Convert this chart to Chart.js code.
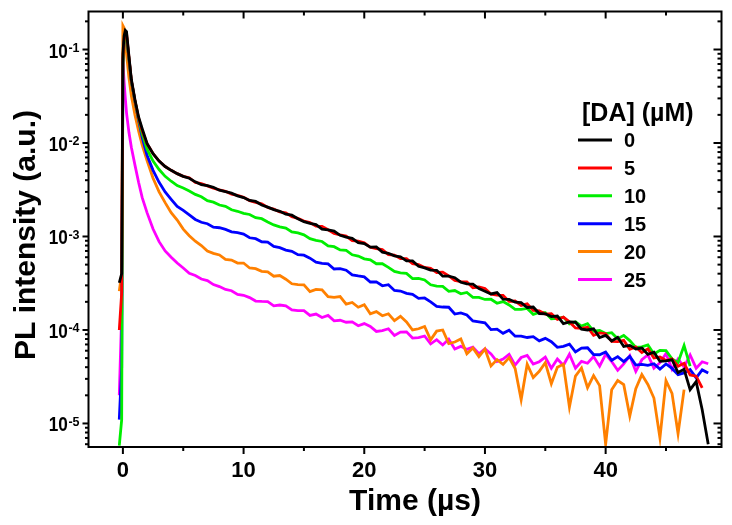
<!DOCTYPE html>
<html>
<head>
<meta charset="utf-8">
<script src="https://cdn.jsdelivr.net/npm/chart.js@4.4.1/dist/chart.umd.min.js"></script>
<style>
  html, body { margin: 0; padding: 0; background: #fff; }
  #wrap { width: 732px; height: 525px; }
</style>
</head>
<body>
<div id="wrap"><canvas id="plChart" width="732" height="525"></canvas></div>
<script>
// time axis (µs), shared by all traces
const timeUs = [-0.3, -0.1, 0, 0.1, 0.2, 0.3, 0.5, 0.7, 1.0, 1.3, 1.6, 2.0, 2.5, 3.0, 3.5, 4.0, 4.5, 5.0,
  5.5, 6, 6.5, 7, 7.5, 8, 8.5, 9, 9.5, 10,
  10.5, 11, 11.5, 12, 12.5, 13, 13.5, 14, 14.5, 15,
  15.5, 16, 16.5, 17, 17.5, 18, 18.5, 19, 19.5, 20,
  20.5, 21, 21.5, 22, 22.5, 23, 23.5, 24, 24.5, 25,
  25.5, 26, 26.5, 27, 27.5, 28, 28.5, 29, 29.5, 30,
  30.5, 31, 31.5, 32, 32.5, 33, 33.5, 34, 34.5, 35,
  35.5, 36, 36.5, 37, 37.5, 38, 38.5, 39, 39.5, 40,
  40.5, 41, 41.5, 42, 42.5, 43, 43.5, 44, 44.5, 45,
  45.5, 46, 46.5, 47, 47.5, 48, 48.5];

// PL intensity (a.u.) per [DA] concentration
const pl0 = [3.2e-4, 4e-4, 0.09, 0.14, 0.16, 0.155, 0.085, 0.048, 0.029, 0.019, 0.0142, 0.0099, 0.0077, 0.0064, 0.0056, 0.0051, 0.0047, 0.0044,
  4.20e-3, 3.84e-3, 3.58e-3, 3.49e-3, 3.36e-3, 3.13e-3, 3.02e-3, 2.91e-3, 2.72e-3, 2.61e-3,
  2.43e-3, 2.37e-3, 2.17e-3, 2.06e-3, 1.94e-3, 1.86e-3, 1.73e-3, 1.69e-3, 1.55e-3, 1.44e-3,
  1.38e-3, 1.34e-3, 1.20e-3, 1.18e-3, 1.14e-3, 1.03e-3, 9.85e-4, 9.54e-4, 8.59e-4, 8.40e-4,
  7.69e-4, 7.72e-4, 6.81e-4, 6.61e-4, 6.20e-4, 6.05e-4, 5.49e-4, 5.48e-4, 4.80e-4, 4.62e-4,
  4.37e-4, 4.35e-4, 3.76e-4, 3.76e-4, 3.62e-4, 3.24e-4, 3.11e-4, 3.10e-4, 2.77e-4, 2.60e-4,
  2.43e-4, 2.51e-4, 2.14e-4, 2.13e-4, 1.98e-4, 1.96e-4, 1.74e-4, 1.76e-4, 1.50e-4, 1.49e-4,
  1.39e-4, 1.41e-4, 1.17e-4, 1.22e-4, 1.21e-4, 1.02e-4, 1.00e-4, 1.03e-4, 8.3e-5, 8.76e-5,
  7.64e-5, 8.35e-5, 6.67e-5, 6.84e-5, 6.27e-5, 6.40e-5, 5.48e-5, 5.78e-5, 4.63e-5, 4.67e-5,
  4.8e-5, 3.5e-5, 3.8e-5, 2.3e-5, 2.8e-5, 1.4e-5, 6e-6];
const pl5 = [1e-4, 2.5e-4, 0.08, 0.13, 0.15, 0.15, 0.083, 0.047, 0.0285, 0.0185, 0.0135, 0.0098, 0.0077, 0.0064, 0.0056, 0.0051, 0.0047, 0.0044,
  4.25e-3, 3.78e-3, 3.67e-3, 3.48e-3, 3.28e-3, 3.15e-3, 3.04e-3, 2.84e-3, 2.76e-3, 2.62e-3,
  2.42e-3, 2.32e-3, 2.23e-3, 2.04e-3, 1.96e-3, 1.83e-3, 1.79e-3, 1.63e-3, 1.56e-3, 1.46e-3,
  1.41e-3, 1.29e-3, 1.28e-3, 1.18e-3, 1.08e-3, 1.04e-3, 1.01e-3, 9.04e-4, 8.92e-4, 8.54e-4,
  7.66e-4, 7.41e-4, 7.23e-4, 6.41e-4, 6.33e-4, 5.79e-4, 5.80e-4, 5.12e-4, 5.00e-4, 4.66e-4,
  4.57e-4, 4.12e-4, 4.16e-4, 3.78e-4, 3.38e-4, 3.29e-4, 3.27e-4, 2.83e-4, 2.88e-4, 2.78e-4,
  2.42e-4, 2.36e-4, 2.35e-4, 2.02e-4, 2.04e-4, 1.83e-4, 1.90e-4, 1.62e-4, 1.60e-4, 1.48e-4,
  1.49e-4, 1.30e-4, 1.37e-4, 1.22e-4, 1.05e-4, 1.04e-4, 1.07e-4, 8.77e-5, 9.3e-5, 9.12e-5,
  7.56e-5, 7.51e-5, 7.74e-5, 6.23e-5, 6.59e-5, 5.74e-5, 6.28e-5, 5.01e-5, 5.14e-5, 4.71e-5,
  4.9e-5, 4.1e-5, 4.4e-5, 3.3e-5, 3.2e-5, 2.4e-5];
const pl10 = [5.8e-6, 1.1e-5, 0.07, 0.12, 0.14, 0.14, 0.08, 0.046, 0.028, 0.018, 0.0125, 0.0086, 0.0064, 0.0052, 0.0044, 0.0039, 0.0035, 0.0033,
  3.07e-3, 2.82e-3, 2.66e-3, 2.42e-3, 2.33e-3, 2.17e-3, 2.10e-3, 1.93e-3, 1.86e-3, 1.77e-3,
  1.72e-3, 1.59e-3, 1.55e-3, 1.43e-3, 1.33e-3, 1.27e-3, 1.23e-3, 1.12e-3, 1.09e-3, 1.04e-3,
  9.49e-4, 9.10e-4, 8.84e-4, 7.95e-4, 7.78e-4, 7.18e-4, 7.10e-4, 6.37e-4, 6.17e-4, 5.77e-4,
  5.63e-4, 5.11e-4, 5.11e-4, 4.68e-4, 4.23e-4, 4.09e-4, 4.03e-4, 3.55e-4, 3.56e-4, 3.43e-4,
  3.04e-4, 2.94e-4, 2.92e-4, 2.59e-4, 2.64e-4, 2.44e-4, 2.52e-4, 2.23e-4, 2.23e-4, 2.12e-4,
  2.13e-4, 1.93e-4, 2.01e-4, 1.85e-4, 1.66e-4, 1.66e-4, 1.70e-4, 1.47e-4, 1.54e-4, 1.53e-4,
  1.32e-4, 1.33e-4, 1.37e-4, 1.16e-4, 1.22e-4, 1.10e-4, 1.17e-4, 9.7e-5, 9.86e-5, 9.14e-5,
  9.35e-5, 8.04e-5, 8.75e-5, 7.70e-5, 6.52e-5, 6.61e-5, 6.91e-5, 5.53e-5, 6.06e-5, 6.03e-5,
  4.9e-5, 4.5e-5, 6.8e-5, 4.1e-5];
const pl15 = [1.1e-5, 4e-5, 0.07, 0.12, 0.14, 0.14, 0.08, 0.046, 0.028, 0.0175, 0.0115, 0.0074, 0.0051, 0.0038, 0.003, 0.0025, 0.0021, 0.0019,
  1.70e-3, 1.52e-3, 1.42e-3, 1.37e-3, 1.26e-3, 1.24e-3, 1.19e-3, 1.12e-3, 1.10e-3, 1.06e-3,
  9.69e-4, 9.48e-4, 8.78e-4, 8.71e-4, 7.84e-4, 7.60e-4, 7.16e-4, 6.94e-4, 6.39e-4, 6.31e-4,
  5.86e-4, 5.31e-4, 5.16e-4, 5.09e-4, 4.49e-4, 4.52e-4, 4.36e-4, 3.89e-4, 3.78e-4, 3.70e-4,
  3.26e-4, 3.27e-4, 2.97e-4, 3.05e-4, 2.65e-4, 2.61e-4, 2.46e-4, 2.41e-4, 2.18e-4, 2.20e-4,
  2.00e-4, 1.79e-4, 1.76e-4, 1.75e-4, 1.48e-4, 1.52e-4, 1.45e-4, 1.25e-4, 1.22e-4, 1.19e-4,
  1.01e-4, 1.02e-4, 9.2e-5, 9.95e-5, 8.58e-5, 8.61e-5, 8.31e-5, 8.49e-5, 7.65e-5, 8.13e-5,
  7.48e-5, 6.52e-5, 6.67e-5, 7.04e-5, 5.82e-5, 6.40e-5, 6.45e-5, 5.46e-5, 5.43e-5, 5.82e-5,
  4.74e-5, 5.19e-5, 4.58e-5, 5.21e-5, 4.21e-5, 4.28e-5, 4.18e-5, 4.35e-5, 3.82e-5, 4.33e-5,
  3.88e-5, 3.33e-5, 3.48e-5, 3.77e-5, 3.07e-5, 3.74e-5, 3.46e-5];
const pl20 = [2.6e-4, 4e-4, 0.18, 0.17, 0.13, 0.09, 0.05, 0.032, 0.02, 0.0135, 0.0095, 0.0065, 0.0042, 0.003, 0.0023, 0.0018, 0.0015, 0.0012,
  1.02e-3, 8.9e-4, 8.0e-4, 7.0e-4, 6.6e-4, 6.35e-4, 5.7e-4, 5.6e-4, 5.2e-4, 5.2e-4,
  4.60e-4, 4.53e-4, 4.24e-4, 4.18e-4, 3.76e-4, 3.82e-4, 3.49e-4, 3.12e-4, 3.06e-4, 3.04e-4,
  2.57e-4, 2.72e-4, 2.69e-4, 2.27e-4, 2.23e-4, 2.28e-4, 1.89e-4, 1.97e-4, 1.75e-4, 1.86e-4,
  1.49e-4, 1.57e-4, 1.42e-4, 1.49e-4, 1.26e-4, 1.40e-4, 1.22e-4, 1.0e-4, 1.03e-4, 1.09e-4,
  7.83e-5, 9.72e-5, 1.0e-4, 7.14e-5, 7.43e-5, 8.0e-5, 5.56e-5, 6.43e-5, 5.19e-5, 6.25e-5,
  4.13e-5, 4.82e-5, 4.28e-5, 5.06e-5, 3.87e-5, 1.8e-5, 4.3e-5, 3.1e-5, 3.61e-5, 4.47e-5,
  2.66e-5, 4.0e-5, 4.29e-5, 1.5e-5, 3.21e-5, 3.92e-5, 2.41e-5, 3.25e-5, 2.54e-5, 6e-6,
  2.29e-5, 2.88e-5, 2.6e-5, 1.2e-5, 2.35e-5, 3.33e-5, 2.61e-5, 1.87e-5, 7e-6, 2.87e-5,
  2.1e-5, 7.8e-6, 2.3e-5];
const pl25 = [2e-5, 1.5e-4, 0.073, 0.045, 0.03, 0.021, 0.013, 0.009, 0.0058, 0.0038, 0.0026, 0.0018, 0.0012, 0.00088, 0.0007, 0.0006, 0.00052, 0.00046,
  4.03e-4, 3.82e-4, 3.51e-4, 3.37e-4, 3.06e-4, 2.91e-4, 2.71e-4, 2.63e-4, 2.40e-4, 2.35e-4,
  2.22e-4, 2.04e-4, 2.02e-4, 2.01e-4, 1.81e-4, 1.85e-4, 1.81e-4, 1.64e-4, 1.61e-4, 1.61e-4,
  1.43e-4, 1.48e-4, 1.36e-4, 1.43e-4, 1.25e-4, 1.27e-4, 1.21e-4, 1.22e-4, 1.11e-4, 1.17e-4,
  1.09e-4, 9.65e-5, 9.86e-5, 1.03e-4, 8.74e-5, 9.49e-5, 9.54e-5, 8.19e-5, 8.28e-5, 8.62e-5,
  7.10e-5, 7.87e-5, 6.91e-5, 7.95e-5, 6.27e-5, 6.68e-5, 6.2e-5, 6.54e-5, 5.57e-5, 6.27e-5,
  5.55e-5, 4.59e-5, 4.89e-5, 5.49e-5, 4.21e-5, 5.07e-5, 5.35e-5, 4.31e-5, 4.58e-5, 5.12e-5,
  3.9e-5, 4.9e-5, 4.19e-5, 5.5e-5, 3.9e-5, 4.62e-5, 4.41e-5, 5.2e-5, 4.1e-5, 5.5e-5,
  4.6e-5, 3.7e-5, 4.33e-5, 5.3e-5, 3.6e-5, 4.8e-5, 5.4e-5, 3.9e-5, 4.47e-5, 5.6e-5,
  3.8e-5, 4.9e-5, 4.0e-5, 5.4e-5, 3.9e-5, 4.57e-5, 4.35e-5];

const seriesLabels = ['0', '5', '10', '15', '20', '25'];
const seriesValues = [pl0, pl5, pl10, pl15, pl20, pl25];
const seriesColors = ['#000000', '#ff0000', '#00ee00', '#0000ff', '#ff8000', '#ff00ff'];

// axis ticks
const xMajorTicks = [0, 10, 20, 30, 40];
const xMinorTicks = [5, 15, 25, 35, 45];
const yDecades = [1e-5, 1e-4, 1e-3, 1e-2, 1e-1];
const yDecadeExp = ['-5', '-4', '-3', '-2', '-1'];
const yMinorMant = [2, 3, 4, 5, 6, 7, 8, 9];

const FONT = '"Liberation Sans", Arial, Helvetica, sans-serif';

const datasets = seriesValues.map((vals, i) => ({
    label: seriesLabels[i]
    ,data: vals.map((v, k) => ({ x: timeUs[k], y: v }))
    ,borderColor: seriesColors[i]
    ,backgroundColor: seriesColors[i]
    ,borderWidth: 2.8
    ,pointRadius: 0
    ,tension: 0
}));

// frame, ticks, labels, titles and legend drawn off the chart scales
const frameAndText = {
    id: 'frameAndText',
    afterDraw(chart) {
        const { ctx, chartArea: a, scales: { x, y } } = chart;
        ctx.save();
        ctx.strokeStyle = '#000';
        ctx.fillStyle = '#000';
        ctx.lineWidth = 2;
        ctx.strokeRect(a.left, a.top, a.right - a.left, a.bottom - a.top);

        const seg = (x1, y1, x2, y2) => { ctx.beginPath(); ctx.moveTo(x1, y1); ctx.lineTo(x2, y2); ctx.stroke(); };

        // x ticks: out at bottom, in at top
        xMajorTicks.forEach(v => { const px = x.getPixelForValue(v); seg(px, a.bottom, px, a.bottom + 7); seg(px, a.top, px, a.top + 7); });
        xMinorTicks.forEach(v => { const px = x.getPixelForValue(v); seg(px, a.bottom, px, a.bottom + 4); seg(px, a.top, px, a.top + 4); });

        // y ticks: out on the left, in on the right
        const yMin = y.min, yMax = y.max;
        yDecades.concat([1e-6]).forEach(d => {
            if (d >= yMin && d <= yMax) {
                const py = y.getPixelForValue(d);
                seg(a.left - 6, py, a.left, py); seg(a.right - 8, py, a.right, py);
            }
            yMinorMant.forEach(m => {
                const v = d * m;
                if (v < yMin || v > yMax) return;
                const py = y.getPixelForValue(v);
                seg(a.left - 3.5, py, a.left, py); seg(a.right - 4, py, a.right, py);
            });
        });

        // x tick labels
        ctx.font = 'bold 22px ' + FONT;
        ctx.textAlign = 'center';
        ctx.textBaseline = 'alphabetic';
        xMajorTicks.forEach(v => ctx.fillText(String(v), x.getPixelForValue(v), a.bottom + 30));

        // y tick labels 10^n
        yDecades.forEach((d, i) => {
            const py = y.getPixelForValue(d);
            ctx.font = 'bold 12.5px ' + FONT;
            const ew = ctx.measureText(yDecadeExp[i]).width;
            const right = a.left - 9;
            ctx.textAlign = 'left';
            ctx.fillText(yDecadeExp[i], right - ew, py + 2.5);
            ctx.save();
            ctx.translate(right - ew - 0.5, py + 8);
            ctx.scale(0.88, 1);
            ctx.font = 'bold 19.5px ' + FONT;
            ctx.textAlign = 'right';
            ctx.fillText('10', 0, 0);
            ctx.restore();
        });

        // axis titles
        ctx.font = 'bold 30px ' + FONT;
        ctx.textAlign = 'center';
        ctx.fillText('Time (\u00b5s)', 415, 510);
        ctx.save();
        ctx.translate(35, 235);
        ctx.rotate(-Math.PI / 2);
        ctx.fillText('PL intensity (a.u.)', 0, 0);
        ctx.restore();

        // legend
        ctx.textAlign = 'left';
        ctx.font = 'bold 25px ' + FONT;
        ctx.fillText('[DA] (\u00b5M)', 582, 121);
        ctx.font = 'bold 20px ' + FONT;
        chart.data.datasets.forEach((ds, i) => {
            const ly = 140 + i * 27.9;
            ctx.strokeStyle = ds.borderColor;
            ctx.lineWidth = 3;
            seg(578, ly, 612, ly);
            ctx.fillStyle = '#000';
            ctx.fillText(ds.label, 624, ly + 7);
        });
        ctx.restore();
    }
};

new Chart(document.getElementById('plChart').getContext('2d'), {
    type: 'line',
    data: { datasets },
    options: {
        responsive: false,
        maintainAspectRatio: false,
        animation: false,
        layout: { padding: { left: 88.5, right: 10.5, top: 11.5, bottom: 78 } },
        plugins: { legend: { display: false }, tooltip: { enabled: false } },
        scales: {
            x: { type: 'linear', min: -2.85, max: 49.6, display: false },
            y: { type: 'logarithmic', min: 5.6e-6, max: 0.255, display: false }
        }
    },
    plugins: [frameAndText]
});
</script>
</body>
</html>
